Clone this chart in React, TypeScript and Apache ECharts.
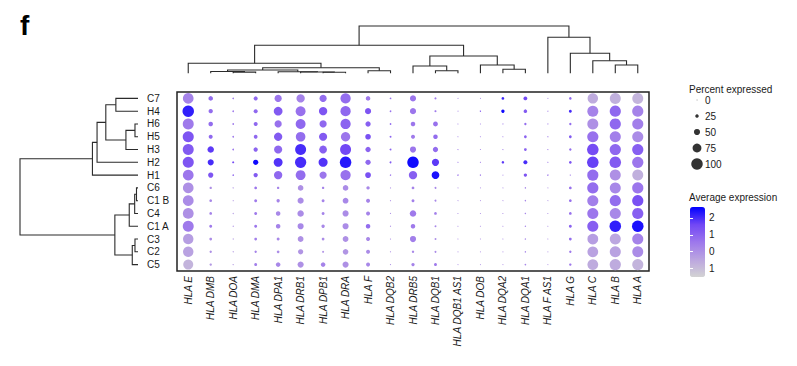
import React, { useEffect, useRef } from "react";
import * as echarts from "echarts";

const genes = [
  "HLA E", "HLA DMB", "HLA DOA", "HLA DMA", "HLA DPA1", "HLA DRB1", "HLA DPB1",
  "HLA DRA", "HLA F", "HLA DQB2", "HLA DRB5", "HLA DQB1", "HLA DQB1 AS1", "HLA DOB",
  "HLA DQA2", "HLA DQA1", "HLA F AS1", "HLA G", "HLA C", "HLA B", "HLA A",
];
const clusters = ["C7", "H4", "H6", "H5", "H3", "H2", "H1", "C6", "C1 B", "C4", "C1 A", "C3", "C2", "C5"];

// percent expressed per cluster (gene order as above)
const pctC7 = [92, 35, 8, 30, 60, 70, 60, 88, 35, 8, 50, 12, 2, 2, 18, 28, 2, 16, 90, 95, 95];
const pctH4 = [100, 33, 8, 30, 74, 85, 70, 88, 50, 8, 50, 12, 2, 5, 24, 26, 3, 20, 95, 97, 97];
const pctH6 = [95, 35, 8, 30, 60, 85, 60, 88, 42, 8, 35, 38, 2, 2, 3, 15, 3, 15, 95, 97, 96];
const pctH5 = [96, 30, 8, 28, 70, 82, 68, 80, 45, 10, 30, 35, 2, 2, 2, 18, 3, 18, 97, 96, 96];
const pctH3 = [95, 53, 8, 33, 68, 95, 65, 95, 42, 10, 50, 42, 3, 2, 3, 18, 3, 15, 100, 97, 97];
const pctH2 = [96, 50, 12, 42, 75, 97, 77, 100, 42, 10, 100, 60, 3, 3, 16, 30, 3, 18, 100, 100, 97];
const pctH1 = [93, 42, 8, 33, 70, 85, 60, 88, 47, 6, 70, 65, 6, 5, 2, 24, 6, 4, 97, 95, 95];
const pctC6 = [92, 15, 4, 18, 15, 45, 15, 45, 24, 3, 18, 10, 2, 2, 2, 6, 2, 18, 97, 95, 97];
const pctC1B = [93, 18, 3, 20, 24, 50, 20, 47, 30, 3, 20, 10, 2, 2, 2, 6, 2, 18, 96, 97, 97];
const pctC4 = [93, 18, 4, 20, 35, 53, 20, 50, 30, 3, 53, 18, 2, 2, 2, 6, 2, 18, 96, 96, 97];
const pctC1A = [95, 20, 4, 20, 35, 50, 24, 50, 35, 3, 35, 10, 2, 2, 2, 6, 2, 20, 96, 100, 100];
const pctC3 = [90, 18, 4, 18, 20, 47, 18, 47, 30, 3, 50, 10, 2, 2, 2, 6, 2, 18, 93, 95, 96];
const pctC2 = [90, 15, 4, 15, 18, 42, 12, 45, 30, 3, 15, 10, 2, 2, 2, 6, 2, 15, 93, 96, 95];
const pctC5 = [86, 15, 4, 20, 35, 50, 35, 50, 30, 3, 24, 20, 2, 2, 2, 8, 2, 15, 93, 97, 96];

// average (scaled) expression per cluster
const avgC7 = [0.3, 0.8, 0.4, 0.9, 0.6, 0.3, 0.8, 0.8, 0.5, 0.7, 0.6, 0.5, 0.2, 0.2, 2.1, 1.6, 0.2, 0.9, -0.6, -0.7, -0.8];
const avgH4 = [2.2, 0.8, 0.5, 0.9, 1.2, 0.7, 1.3, 0.9, 1.3, 0.7, 0.6, 0.5, 0.2, 1.0, 2.5, 1.2, 0.3, 2.0, 0.3, 0.9, 0.3];
const avgH6 = [0.5, 0.8, 0.5, 0.9, 0.7, 0.9, 0.9, 1.0, 1.1, 0.9, 0.6, 0.7, 0.2, 0.2, 0.3, 0.8, 0.3, 0.8, 0.0, 0.9, 0.4];
const avgH5 = [1.3, 0.9, 0.5, 0.9, 1.2, 0.8, 1.2, 0.6, 1.4, 1.0, 0.5, 0.8, 0.2, 0.2, 0.3, 1.0, 0.3, 1.2, 0.7, 0.4, 0.1];
const avgH3 = [1.2, 1.8, 0.6, 1.0, 0.9, 2.0, 1.1, 1.6, 1.0, 1.0, 0.6, 0.8, 0.3, 0.2, 0.3, 1.0, 0.3, 0.8, 1.5, 0.9, 1.1];
const avgH2 = [1.3, 2.0, 1.5, 2.5, 1.9, 2.0, 1.9, 2.3, 0.9, 1.2, 2.5, 1.8, 0.3, 0.3, 1.8, 2.0, 0.3, 1.3, 1.7, 1.2, 0.6];
const avgH1 = [0.6, 1.3, 0.8, 1.2, 0.9, 0.8, 0.6, 0.7, 1.4, 0.5, 1.1, 2.4, 0.6, 0.3, 0.2, 1.3, 0.5, 0.3, 0.8, 0.0, -0.7];
const avgC6 = [0.0, 0.0, -0.2, 0.6, 0.3, 0.0, 0.3, 0.1, 0.2, 0.0, 0.3, 0.2, 0.0, 0.0, 0.0, 0.2, 0.0, 0.7, 0.8, 0.2, 0.6];
const avgC1B = [0.1, 0.2, -0.2, 0.5, 0.3, 0.1, 0.3, 0.2, 0.3, 0.0, 0.4, 0.2, 0.0, 0.0, 0.0, 0.2, 0.0, 0.7, 0.4, 0.8, 1.4];
const avgC4 = [0.0, 0.3, -0.2, 0.5, 0.2, 0.1, 0.3, 0.1, 0.3, 0.0, 0.5, 0.4, 0.0, 0.0, 0.0, 0.2, 0.0, 0.7, 0.6, 0.2, 1.1];
const avgC1A = [0.5, 0.5, -0.1, 0.6, 0.3, 0.2, 0.2, 0.1, 0.8, 0.0, 0.5, 0.2, 0.0, 0.0, 0.0, 0.2, 0.0, 1.0, 1.1, 2.2, 2.4];
const avgC3 = [-0.3, 0.1, -0.3, 0.4, 0.2, 0.0, 0.1, 0.0, 0.2, 0.0, 0.4, 0.1, 0.0, 0.0, 0.0, 0.2, 0.0, 0.8, -0.3, -0.5, 0.3];
const avgC2 = [-0.4, 0.0, -0.3, 0.3, 0.1, -0.1, 0.0, -0.1, 0.1, 0.0, 0.2, 0.1, 0.0, 0.0, 0.0, 0.2, 0.0, 0.5, -0.4, -0.4, 0.1];
const avgC5 = [-0.8, -0.2, -0.3, 0.4, 0.2, 0.0, 0.3, 0.0, 0.2, 0.0, 0.3, 0.5, 0.0, 0.0, 0.0, 0.2, 0.0, 0.5, -0.6, -0.6, -0.8];

const pctRows = [pctC7, pctH4, pctH6, pctH5, pctH3, pctH2, pctH1, pctC6, pctC1B, pctC4, pctC1A, pctC3, pctC2, pctC5];
const avgRows = [avgC7, avgH4, avgH6, avgH5, avgH3, avgH2, avgH1, avgC6, avgC1B, avgC4, avgC1A, avgC3, avgC2, avgC5];

const sizeBreaks = [0, 25, 50, 75, 100];
const colorTicks = [2, 1, 0, -1];

// hclust-style merges: negative = leaf (-(index+1)), positive = earlier merge (1-based), then height
const geneMerges = [
  [-3, -4, 1.2], [-2, 1, 1.8], [-7, -8, 1.0], [-6, 3, 1.3], [-5, 4, 1.6], [2, 5, 3.3],
  [-9, -10, 2.6], [6, 7, 5.6], [-1, 8, 10], [-12, -13, 2.6], [-11, 10, 7.3], [-15, -16, 4],
  [-14, 12, 8.3], [11, 13, 17.3], [9, 14, 28], [-20, -21, 8.3], [-19, 16, 12.6],
  [-18, 17, 20], [-17, 18, 36], [15, 19, 47.3],
];
const clusterMerges = [
  [-3, -4, 3], [1, -5, 12], [-1, -2, 22], [3, 2, 32], [4, -6, 40.7], [5, -7, 45.3],
  [-8, -9, 1.5], [7, -10, 3.3], [8, -11, 8.7], [-12, -13, 3], [10, -14, 5.7], [9, 11, 23],
  [6, 12, 117.3],
];

function buildLinks(merges: number[][]) {
  const pos: number[] = [];
  const hts: number[] = [];
  const links: number[][] = [];
  merges.forEach(([a, b, h], k) => {
    const pa = a < 0 ? -a - 1 : pos[a - 1];
    const ha = a < 0 ? 0 : hts[a - 1];
    const pb = b < 0 ? -b - 1 : pos[b - 1];
    const hb = b < 0 ? 0 : hts[b - 1];
    pos[k] = (pa + pb) / 2;
    hts[k] = h;
    links.push([pa, ha, pb, hb, h]);
  });
  return links;
}

const sizeOf = (p: number) => 0.8 + (10.7 * p) / 100;

const FONT = "Liberation Sans, Arial, Helvetica, sans-serif";
const TXT = "#1a1a1a";
const LINE = "#2b2b2b";

export default function App() {
  const ref = useRef<HTMLDivElement>(null);
  useEffect(() => {
    if (!ref.current) return;
    const chart = echarts.init(ref.current, undefined, { renderer: "svg" });

    const dots: number[][] = [];
    pctRows.forEach((row, r) => {
      row.forEach((p, g) => dots.push([g, r, p, avgRows[r][g]]));
    });
    const geneLinks = buildLinks(geneMerges);
    const clusterLinks = buildLinks(clusterMerges);
    const geneMaxH = Math.max(...geneMerges.map((m) => m[2]));
    const clusterMaxH = Math.max(...clusterMerges.map((m) => m[2]));

    const option: any = {
      animation: false,
      backgroundColor: "#fff",
      textStyle: { fontFamily: FONT },
      grid: [
        { left: 177, top: 92, width: 472, height: 179, show: true, borderColor: "#222", borderWidth: 1.5 },
        { left: 177, top: 26, width: 472, height: 47.3 },
        { left: 20, top: 92, width: 118, height: 179 },
        { left: 692, top: 92, width: 10, height: 80 },
        { left: 690, top: 207, width: 15, height: 70 },
      ],
      xAxis: [
        {
          gridIndex: 0, type: "category", data: genes, boundaryGap: true,
          axisLine: { show: false }, axisTick: { show: false }, splitLine: { show: false },
          axisLabel: { rotate: 90, interval: 0, margin: 5, fontSize: 10, fontStyle: "italic", color: TXT, fontFamily: FONT },
        },
        { gridIndex: 1, type: "value", min: -0.5, max: genes.length - 0.5, show: false },
        { gridIndex: 2, type: "value", min: 0, max: clusterMaxH, inverse: true, show: false },
        { gridIndex: 3, type: "value", min: -1, max: 1, show: false },
        { gridIndex: 4, type: "value", min: 0, max: 1, show: false },
      ],
      yAxis: [
        {
          gridIndex: 0, type: "category", data: clusters, inverse: true, boundaryGap: true,
          axisLine: { show: false }, axisTick: { show: false }, splitLine: { show: false },
          axisLabel: { interval: 0, margin: 30, align: "left", fontSize: 10, color: TXT, fontFamily: FONT },
        },
        { gridIndex: 1, type: "value", min: 0, max: geneMaxH, show: false },
        { gridIndex: 2, type: "value", min: -0.5, max: clusters.length - 0.5, inverse: true, show: false },
        {
          gridIndex: 3, type: "category", data: sizeBreaks.map(String), inverse: true, position: "right",
          axisLine: { show: false }, axisTick: { show: false }, splitLine: { show: false },
          axisLabel: { margin: 3, fontSize: 10, color: TXT, fontFamily: FONT },
        },
        {
          gridIndex: 4, type: "value", min: -1.5, max: 2.65, position: "right", z: 10,
          axisLine: { show: false }, splitLine: { show: false },
          axisTick: { show: true, inside: true, length: 3, customValues: colorTicks, lineStyle: { color: "#fff", width: 1 } },
          axisLabel: { margin: 4, fontSize: 10, color: TXT, fontFamily: FONT, customValues: colorTicks, formatter: (v: number) => String(Math.abs(v)) },
        },
        {
          gridIndex: 4, type: "value", min: -1.5, max: 2.65, position: "left", z: 10,
          axisLine: { show: false }, splitLine: { show: false }, axisLabel: { show: false },
          axisTick: { show: true, inside: true, length: 3, customValues: colorTicks, lineStyle: { color: "#fff", width: 1 } },
        },
      ],
      visualMap: {
        type: "continuous", seriesIndex: 0, dimension: 3, min: -1.5, max: 2.65,
        left: 690, top: 207, itemWidth: 15, itemHeight: 70, padding: 0,
        calculable: false, hoverLink: false,
        inRange: { color: ["#d3d3d3", "#bba5e0", "#9d77ec", "#7147f5", "#0000ff"] },
      },
      series: [
        {
          type: "scatter", xAxisIndex: 0, yAxisIndex: 0, data: dots,
          symbolSize: (v: number[]) => sizeOf(v[2]),
          itemStyle: { opacity: 1 },
        },
        {
          type: "custom", xAxisIndex: 1, yAxisIndex: 1, data: geneLinks,
          encode: { x: [0, 2], y: [1, 3, 4] },
          renderItem: (_p: any, api: any) => {
            const a = api.coord([api.value(0), api.value(1)]);
            const am = api.coord([api.value(0), api.value(4)]);
            const bm = api.coord([api.value(2), api.value(4)]);
            const b = api.coord([api.value(2), api.value(3)]);
            return { type: "polyline", shape: { points: [a, am, bm, b] }, style: { stroke: LINE, lineWidth: 1.1, fill: null } };
          },
        },
        {
          type: "custom", xAxisIndex: 2, yAxisIndex: 2, data: clusterLinks.map((l) => [l[1], l[0], l[3], l[2], l[4]]),
          encode: { x: [0, 2, 4], y: [1, 3] },
          renderItem: (_p: any, api: any) => {
            const a = api.coord([api.value(0), api.value(1)]);
            const am = api.coord([api.value(4), api.value(1)]);
            const bm = api.coord([api.value(4), api.value(3)]);
            const b = api.coord([api.value(2), api.value(3)]);
            return { type: "polyline", shape: { points: [a, am, bm, b] }, style: { stroke: LINE, lineWidth: 1.1, fill: null } };
          },
        },
        {
          type: "scatter", xAxisIndex: 3, yAxisIndex: 3,
          data: sizeBreaks.map((s, i) => [0, i, s]),
          symbolSize: (v: number[]) => sizeOf(v[2]),
          itemStyle: { color: "#000" },
        },
      ],
      graphic: [
        { type: "text", left: 20, top: 11, style: { text: "f", fontSize: 28, fontWeight: "bold", fontFamily: FONT, fill: "#000" } },
        { type: "text", x: 689, y: 89, style: { text: "Percent expressed", fontSize: 10, fontFamily: FONT, fill: TXT, textVerticalAlign: "middle" } },
        { type: "text", x: 689, y: 197.5, style: { text: "Average expression", fontSize: 10, fontFamily: FONT, fill: TXT, textVerticalAlign: "middle" } },
      ],
    };
    chart.setOption(option);
    return () => chart.dispose();
  }, []);
  return <div ref={ref} style={{ position: "fixed", left: 0, top: 0, width: 797, height: 366 }} />;
}
